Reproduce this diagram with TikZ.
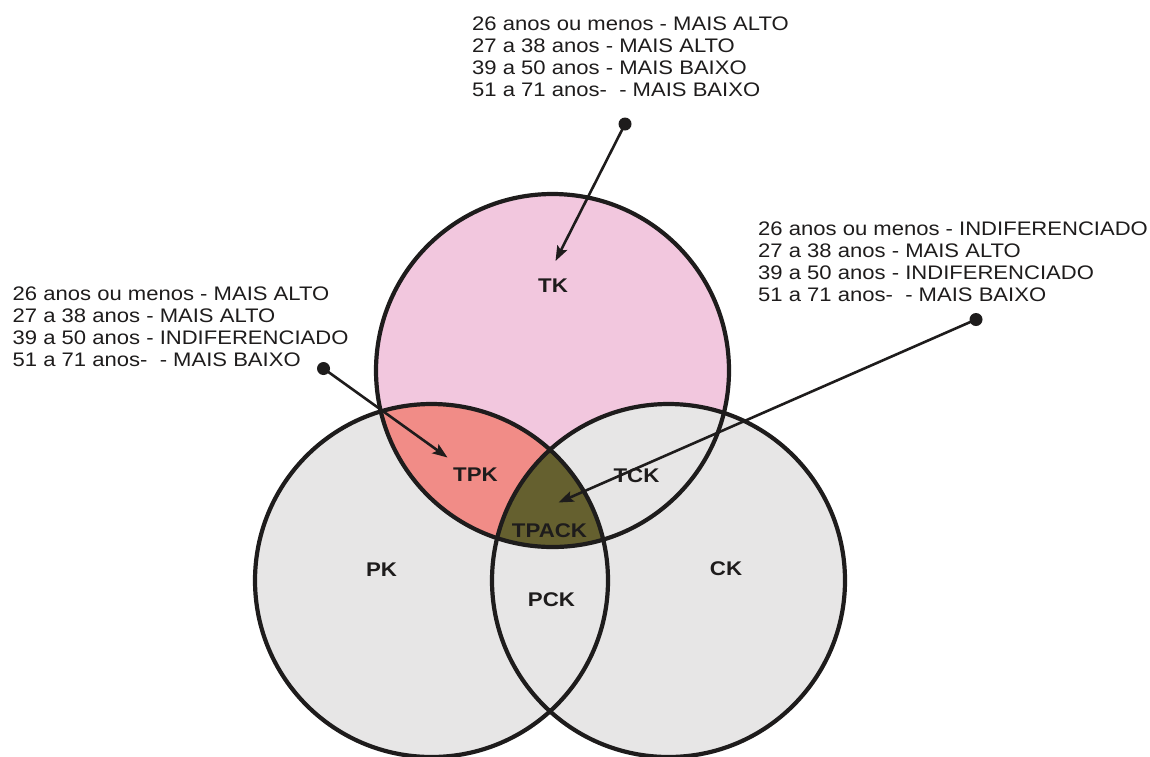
\documentclass[tikz,border=0pt]{standalone}
\usepackage{fontspec}
\setmainfont{Liberation Sans}[FakeStretch=1.125]
\usetikzlibrary{arrows.meta}

\definecolor{inkc}{RGB}{30,28,28}
\definecolor{tkpink}{RGB}{242,199,222}
\definecolor{setgrey}{RGB}{231,230,230}
\definecolor{tpkred}{RGB}{241,140,135}
\definecolor{tpackolive}{RGB}{101,96,47}

\tikzset{
  ann/.style={anchor=base west, inner sep=0pt, text=inkc,
              font=\fontsize{19.6}{22}\selectfont},
  setlabel/.style={inner sep=0pt, text=inkc,
              font=\fontsize{19.8}{22}\selectfont\bfseries},
  ring/.style={draw=inkc, line width=4.2pt},
  pointer/.style={draw=inkc, line width=2.6pt,
              -{Stealth[length=15pt, width=11pt, inset=3pt]}},
  pin/.style={fill=inkc}
}

\begin{document}
\begin{tikzpicture}[x=1pt, y=-1pt]
  \useasboundingbox (0,0) rectangle (1150,756);

  % circle centres and radius
  \def\rr{176.5}
  \coordinate (cT) at (552.5,370.5);
  \coordinate (cP) at (431.5,580.5);
  \coordinate (cC) at (668.5,580.5);

  % region fills
  \fill[tkpink] (cT) circle (\rr);
  \fill[setgrey] (cP) circle (\rr);
  \fill[setgrey] (cC) circle (\rr);
  \begin{scope}
    \clip (cT) circle (\rr);
    \fill[tpkred] (cP) circle (\rr);
    \clip (cP) circle (\rr);
    \fill[tpackolive] (cC) circle (\rr);
  \end{scope}

  % outlines
  \draw[ring] (cT) circle (\rr);
  \draw[ring] (cP) circle (\rr);
  \draw[ring] (cC) circle (\rr);

  % set labels
  \node[setlabel] (tk) at (553,286) {TK};
  \node[setlabel] (tpk) at (475.5,474.5) {TPK};
  \node[setlabel] (tck) at (636.5,475.5) {TCK};
  \node[setlabel] (tpack) at (549.5,530.5) {TPACK};
  \node[setlabel] (pk) at (381.5,569.5) {PK};
  \node[setlabel] (pck) at (551.5,599.5) {PCK};
  \node[setlabel] (ck) at (726,569) {CK};

  % annotation blocks
  \node[ann] (t1) at (472,30) {26 anos ou menos - MAIS ALTO};
  \node[ann] (t2) at (472,52.2) {27 a 38 anos - MAIS ALTO};
  \node[ann] (t3) at (472,74.4) {39 a 50 anos - MAIS BAIXO};
  \node[ann] (t4) at (472,96.6) {51 a 71 anos-\ \ - MAIS BAIXO};

  \node[ann] (l1) at (12.5,300.5) {26 anos ou menos - MAIS ALTO};
  \node[ann] (l2) at (12.5,322.5) {27 a 38 anos - MAIS ALTO};
  \node[ann] (l3) at (12.5,344.5) {39 a 50 anos - INDIFERENCIADO};
  \node[ann] (l4) at (12.5,366.5) {51 a 71 anos-\ \ - MAIS BAIXO};

  \node[ann] (r1) at (758,235) {26 anos ou menos - INDIFERENCIADO};
  \node[ann] (r2) at (758,257.2) {27 a 38 anos - MAIS ALTO};
  \node[ann] (r3) at (758,279.4) {39 a 50 anos - INDIFERENCIADO};
  \node[ann] (r4) at (758,301.6) {51 a 71 anos-\ \ - MAIS BAIXO};

  % pointers: dot end and arrow tip
  \coordinate (dotT) at (625,124);
  \coordinate (tipT) at (555.5,261);
  \coordinate (dotL) at (323.5,368.5);
  \coordinate (tipL) at (447.5,457.5);
  \coordinate (dotR) at (976,319.5);
  \coordinate (tipR) at (558.5,502.5);

  \draw[pointer] (dotT) -- (tipT);
  \draw[pointer] (dotL) -- (tipL);
  \draw[pointer] (dotR) -- (tipR);
  \fill[pin] (dotT) circle (6.5);
  \fill[pin] (dotL) circle (6.5);
  \fill[pin] (dotR) circle (6.5);
\end{tikzpicture}
\end{document}
